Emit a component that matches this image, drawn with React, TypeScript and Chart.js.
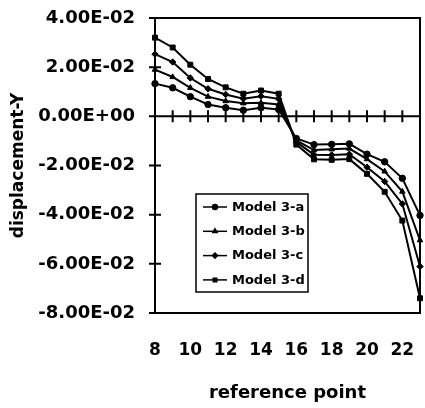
import { useEffect, useRef } from "react";
import { Chart, registerables } from "chart.js";
import { drawPoint } from "chart.js/helpers";

Chart.register(...registerables);

const xValues = [8, 9, 10, 11, 12, 13, 14, 15, 16, 17, 18, 19, 20, 21, 22, 23];
const seriesNames = ["Model 3-a", "Model 3-b", "Model 3-c", "Model 3-d"];
const model3a = [0.0133, 0.0116, 0.008, 0.0048, 0.0035, 0.0025, 0.0035, 0.0028, -0.009, -0.0115, -0.0114, -0.0112, -0.0154, -0.0185, -0.0252, -0.0403];
const model3b = [0.019, 0.016, 0.0116, 0.008, 0.0062, 0.0053, 0.0055, 0.0048, -0.0098, -0.0137, -0.0134, -0.0131, -0.0174, -0.0224, -0.0306, -0.0504];
const model3c = [0.0253, 0.0221, 0.0156, 0.0112, 0.0089, 0.0072, 0.0082, 0.0071, -0.0105, -0.0156, -0.0157, -0.0154, -0.0207, -0.0265, -0.0356, -0.0611];
const model3d = [0.032, 0.028, 0.021, 0.0152, 0.0118, 0.0092, 0.0105, 0.0092, -0.0115, -0.0175, -0.0177, -0.0174, -0.0234, -0.0307, -0.0424, -0.074];
const seriesValues = [model3a, model3b, model3c, model3d];
const pointStyles = ["circle", "triangle", "rectRot", "rect"];
const xTickValues = [8, 10, 12, 14, 16, 18, 20, 22];
const yTickValues = [0.04, 0.02, 0, -0.02, -0.04, -0.06, -0.08];

function formatSci(v: number): string {
  if (Math.abs(v) < 1e-12) return "0.00E+00";
  const exp = Math.floor(Math.log10(Math.abs(v)) + 1e-9);
  const mant = v / Math.pow(10, exp);
  const sign = exp < 0 ? "-" : "+";
  return mant.toFixed(2) + "E" + sign + String(Math.abs(exp)).padStart(2, "0");
}

const framePlugin = {
  id: "frame",
  beforeDatasetsDraw(chart: any) {
    const { ctx, chartArea: a, scales } = chart;
    const x = scales.x;
    const y = scales.y;
    ctx.save();
    ctx.strokeStyle = "#000";
    ctx.lineWidth = 2;
    ctx.strokeRect(a.left, a.top, a.right - a.left, a.bottom - a.top);
    const y0 = y.getPixelForValue(0);
    ctx.beginPath();
    ctx.moveTo(a.left, y0);
    ctx.lineTo(a.right, y0);
    for (let v = x.min; v <= x.max; v++) {
      const px = x.getPixelForValue(v);
      ctx.moveTo(px, y0 - 6);
      ctx.lineTo(px, y0 + 6);
    }
    for (const v of yTickValues) {
      const py = y.getPixelForValue(v);
      ctx.moveTo(a.left - 6, py);
      ctx.lineTo(a.left + 6, py);
    }
    ctx.stroke();
    ctx.restore();
  },
  afterDraw(chart: any) {
    const { ctx, chartArea: a } = chart;
    const bx = a.left + 41;
    const by = a.top + 176;
    const bw = 112;
    const bh = 98;
    ctx.save();
    ctx.fillStyle = "#fff";
    ctx.fillRect(bx, by, bw, bh);
    ctx.strokeStyle = "#000";
    ctx.lineWidth = 1.5;
    ctx.strokeRect(bx, by, bw, bh);
    ctx.font = "bold 13px 'DejaVu Sans'";
    ctx.textBaseline = "middle";
    ctx.textAlign = "left";
    ctx.fillStyle = "#000";
    seriesNames.forEach((name, i) => {
      const ry = by + 13 + i * 24.3;
      ctx.beginPath();
      ctx.lineWidth = 1.5;
      ctx.moveTo(bx + 7, ry);
      ctx.lineTo(bx + 31, ry);
      ctx.stroke();
      drawPoint(ctx, { pointStyle: pointStyles[i] as any, radius: 2.5, borderWidth: 1, rotation: 0 } as any, bx + 19, ry);
      ctx.fill();
      ctx.fillText(name, bx + 36, ry + 0.5);
    });
    ctx.restore();
  },
};

export default function App() {
  const ref = useRef<HTMLCanvasElement>(null);
  useEffect(() => {
    if (!ref.current) return;
    Chart.defaults.font.family = "'DejaVu Sans'";
    Chart.defaults.color = "#000";
    const chart = new Chart(ref.current, {
      type: "line",
      data: {
        datasets: seriesNames.map((name, i) => ({
          label: name,
          data: xValues.map((xv, j) => ({ x: xv, y: seriesValues[i][j] })),
          borderColor: "#000",
          backgroundColor: "#000",
          borderWidth: 2,
          pointStyle: pointStyles[i] as any,
          pointRadius: i === 3 ? 3.5 : 3.2,
          pointBackgroundColor: "#000",
          pointBorderColor: "#000",
          pointBorderWidth: 1,
          tension: 0,
          clip: false as any,
        })),
      },
      options: {
        animation: false,
        responsive: false,
        devicePixelRatio: 1,
        layout: { padding: { top: 18, right: 4, left: 0, bottom: 0 } },
        plugins: { legend: { display: false }, tooltip: { enabled: false } },
        scales: {
          x: {
            type: "linear",
            min: 8,
            max: 23,
            grid: { display: false, drawTicks: false },
            border: { display: false },
            afterBuildTicks: (s: any) => {
              s.ticks = xTickValues.map((v) => ({ value: v }));
            },
            afterFit: (s: any) => {
              s.height = 95;
              s.paddingLeft = 0;
              s.paddingRight = 0;
            },
            ticks: {
              padding: 27,
              autoSkip: false,
              maxRotation: 0,
              font: { size: 17, weight: "bold" },
              callback: (v: any) => String(v),
            },
            title: {
              display: true,
              text: "reference point",
              font: { size: 18, weight: "bold" },
              padding: { top: 0, bottom: 4 },
            },
          },
          y: {
            type: "linear",
            min: -0.08,
            max: 0.04,
            grid: { display: false, drawTicks: false },
            border: { display: false },
            afterBuildTicks: (s: any) => {
              s.ticks = yTickValues.map((v) => ({ value: v }));
            },
            afterFit: (s: any) => {
              s.width = 155;
              s.paddingTop = 0;
              s.paddingBottom = 0;
            },
            ticks: {
              padding: 20,
              font: { size: 18, weight: "bold" },
              callback: (v: any) => formatSci(Number(v)),
            },
            title: {
              display: true,
              text: "displacement-Y",
              font: { size: 17, weight: "bold" },
              padding: { top: 8, bottom: 0 },
            },
          },
        },
      },
      plugins: [framePlugin],
    });
    return () => chart.destroy();
  }, []);
  return (
    <div style={{ position: "absolute", left: 0, top: 0, width: 425, height: 408, background: "#fff" }}>
      <canvas ref={ref} width={425} height={408} style={{ display: "block" }} />
    </div>
  );
}
